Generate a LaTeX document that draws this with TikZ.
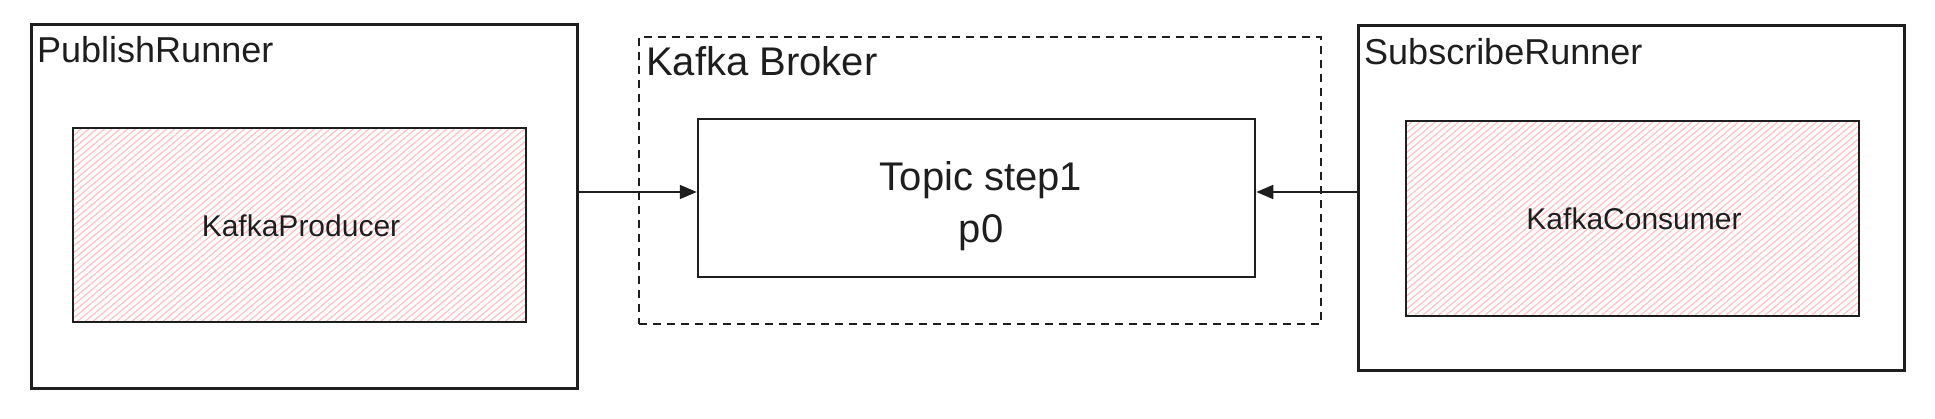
\documentclass[tikz,border=0pt]{standalone}
\usepackage{fontspec}
\setmainfont{Liberation Sans}
\usetikzlibrary{arrows.meta,patterns.meta}
\definecolor{ink}{HTML}{1E1E1E}
\definecolor{hatch}{HTML}{FFC0C0}
\tikzset{
  runnerbox/.style={draw=ink, line width=3pt, rectangle, inner sep=0pt},
  clientbox/.style={draw=ink, line width=2pt, rectangle, inner sep=0pt,
    pattern={Lines[angle=40,distance=5pt,line width=1.2pt]}, pattern color=hatch},
  brokerbox/.style={draw=ink, line width=1.5pt, rectangle, inner sep=0pt, dash pattern=on 8pt off 6pt},
  topicbox/.style={draw=ink, line width=2.5pt, rectangle, inner sep=0pt},
  title/.style={inner sep=0pt, anchor=base west, font=\fontsize{36}{42}\selectfont, text=ink},
  inlabel/.style={inner sep=0pt, font=\fontsize{30}{36}\selectfont, text=ink},
  conn/.style={draw=ink, line width=1.8pt, -{Triangle[length=17pt,width=14pt]}}
}
\begin{document}
\begin{tikzpicture}[x=1pt,y=-1pt]
\useasboundingbox (0,0) rectangle (1935,419);
\fill[white] (0,0) rectangle (1935,419);
% boxes
\node[runnerbox, minimum width=546pt, minimum height=363pt] (pr) at (304,206.5) {};
\node[clientbox, minimum width=453pt, minimum height=194pt] (kp) at (299.5,225) {};
\node[brokerbox, minimum width=682pt, minimum height=287pt] (kb) at (980,180.5) {};
\node[topicbox, minimum width=557pt, minimum height=158pt] (tp) at (976.5,198) {};
\node[runnerbox, minimum width=546pt, minimum height=345pt] (sr) at (1631,198.5) {};
\node[clientbox, minimum width=453pt, minimum height=195pt] (kc) at (1632.5,218.5) {};
% labels
\node[title] (prl) at (37,63) {PublishRunner};
\node[title] (srl) at (1364,65) {SubscribeRunner};
\node[title, font=\fontsize{40}{46}\selectfont] (kbl) at (646,76) {Kafka Broker};
\node[inlabel] (kpl) at (301,226) {KafkaProducer};
\node[inlabel] (kcl) at (1634,219) {KafkaConsumer};
\node[inlabel, align=center, font=\fontsize{40}{52}\selectfont] (tpl) at (981,206) {Topic step1\\p0};
% connectors
\coordinate (ay) at (0,192);
\draw[conn] (pr.east |- ay) -- (tp.west |- ay);
\draw[conn] (sr.west |- ay) -- (tp.east |- ay);
\end{tikzpicture}
\end{document}
